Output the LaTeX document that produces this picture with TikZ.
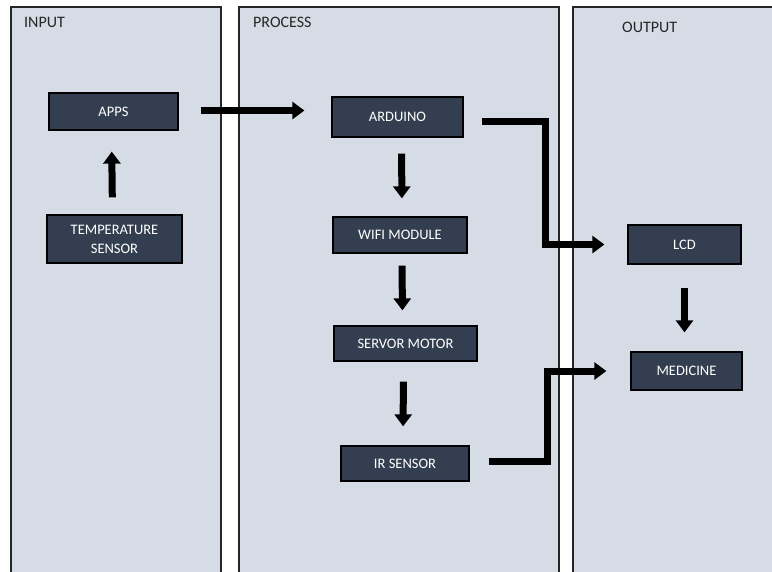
\documentclass[tikz,border=0pt]{standalone}
\usepackage{fontspec}
\setmainfont{Carlito}
\usetikzlibrary{arrows.meta}

\definecolor{panelfill}{HTML}{D6DCE5}
\definecolor{blockfill}{HTML}{333F50}

\begin{document}
\begin{tikzpicture}[
        x=1pt,y=-1pt,
        panel/.style={draw=black!85,line width=1.2pt,fill=panelfill},
        title/.style={anchor=west,inner sep=0pt,font=\fontsize{16}{19}\selectfont,text=black!85},
        blk/.style={draw=black,line width=1.3pt,fill=blockfill,text=white,
            align=center,inner sep=1pt,font=\fontsize{14.5}{19}\selectfont},
        flow/.style={line width=7pt,-{Triangle[width=17pt,length=12pt]}}
    ]
    \useasboundingbox (0,0) rectangle (772,571);
    \clip (0,0) rectangle (772,571);
    \fill[white] (0,0) rectangle (772,571);

    % three columns
    \draw[panel] (11,7) rectangle (221,590);
    \draw[panel] (239,7) rectangle (559,590);
    \draw[panel] (573,7) rectangle (790,590);
    \node [title] (tin) at (24,22) {INPUT};
    \node [title] (tproc) at (253,22) {PROCESS};
    \node [title] (tout) at (622,27) {OUTPUT};

    % blocks
    \node [blk,minimum width=129,minimum height=37] (apps) at (113.5,111.5) {APPS};
    \node [blk,minimum width=135,minimum height=48] (temp) at (114.5,239) {TEMPERATURE\\SENSOR};
    \node [blk,minimum width=131,minimum height=40] (arduino) at (397.5,117) {ARDUINO};
    \node [blk,minimum width=134,minimum height=36] (wifi) at (400,235) {WIFI MODULE};
    \node [blk,minimum width=143,minimum height=35] (servo) at (405.5,343.5) {SERVOR MOTOR};
    \node [blk,minimum width=128,minimum height=35] (ir) at (405,463.5) {IR SENSOR};
    \node [blk,minimum width=113,minimum height=39] (lcd) at (684.5,244.5) {LCD};
    \node [blk,minimum width=111,minimum height=38] (med) at (686.5,371) {MEDICINE};

    % bend points of the two elbow arrows
    \coordinate (bendA) at (545,121);
    \coordinate (bendB) at (547,461);

    % arrows
    \draw [flow,shorten <=17pt,shorten >=21pt] ([xshift=-2pt]temp.north) -- ([xshift=-2pt]apps.south);
    \draw [flow,shorten <=22pt,shorten >=27pt] ([yshift=1pt]apps.east) -- ([yshift=1pt]apps.east -| arduino.west);
    \draw [flow,shorten <=16pt,shorten >=18pt] ([xshift=4pt]arduino.south) -- ([xshift=2pt]wifi.north);
    \draw [flow,shorten <=12pt,shorten >=15pt] ([xshift=2pt]wifi.south) -- ([xshift=-3pt]servo.north);
    \draw [flow,shorten <=20pt,shorten >=19pt] ([xshift=-2pt]servo.south) -- ([xshift=-2pt]ir.north);
    \draw [flow,shorten <=23pt,shorten >=19pt] (lcd.south) -- ([xshift=-2pt]med.north);
    \draw [flow,shorten <=18pt,shorten >=23pt] (arduino.east |- bendA) -- (bendA) |- (lcd.west);
    \draw [flow,shorten <=19pt,shorten >=24pt] (ir.east |- bendB) -- (bendB) |- (med.west);
\end{tikzpicture}
\end{document}
